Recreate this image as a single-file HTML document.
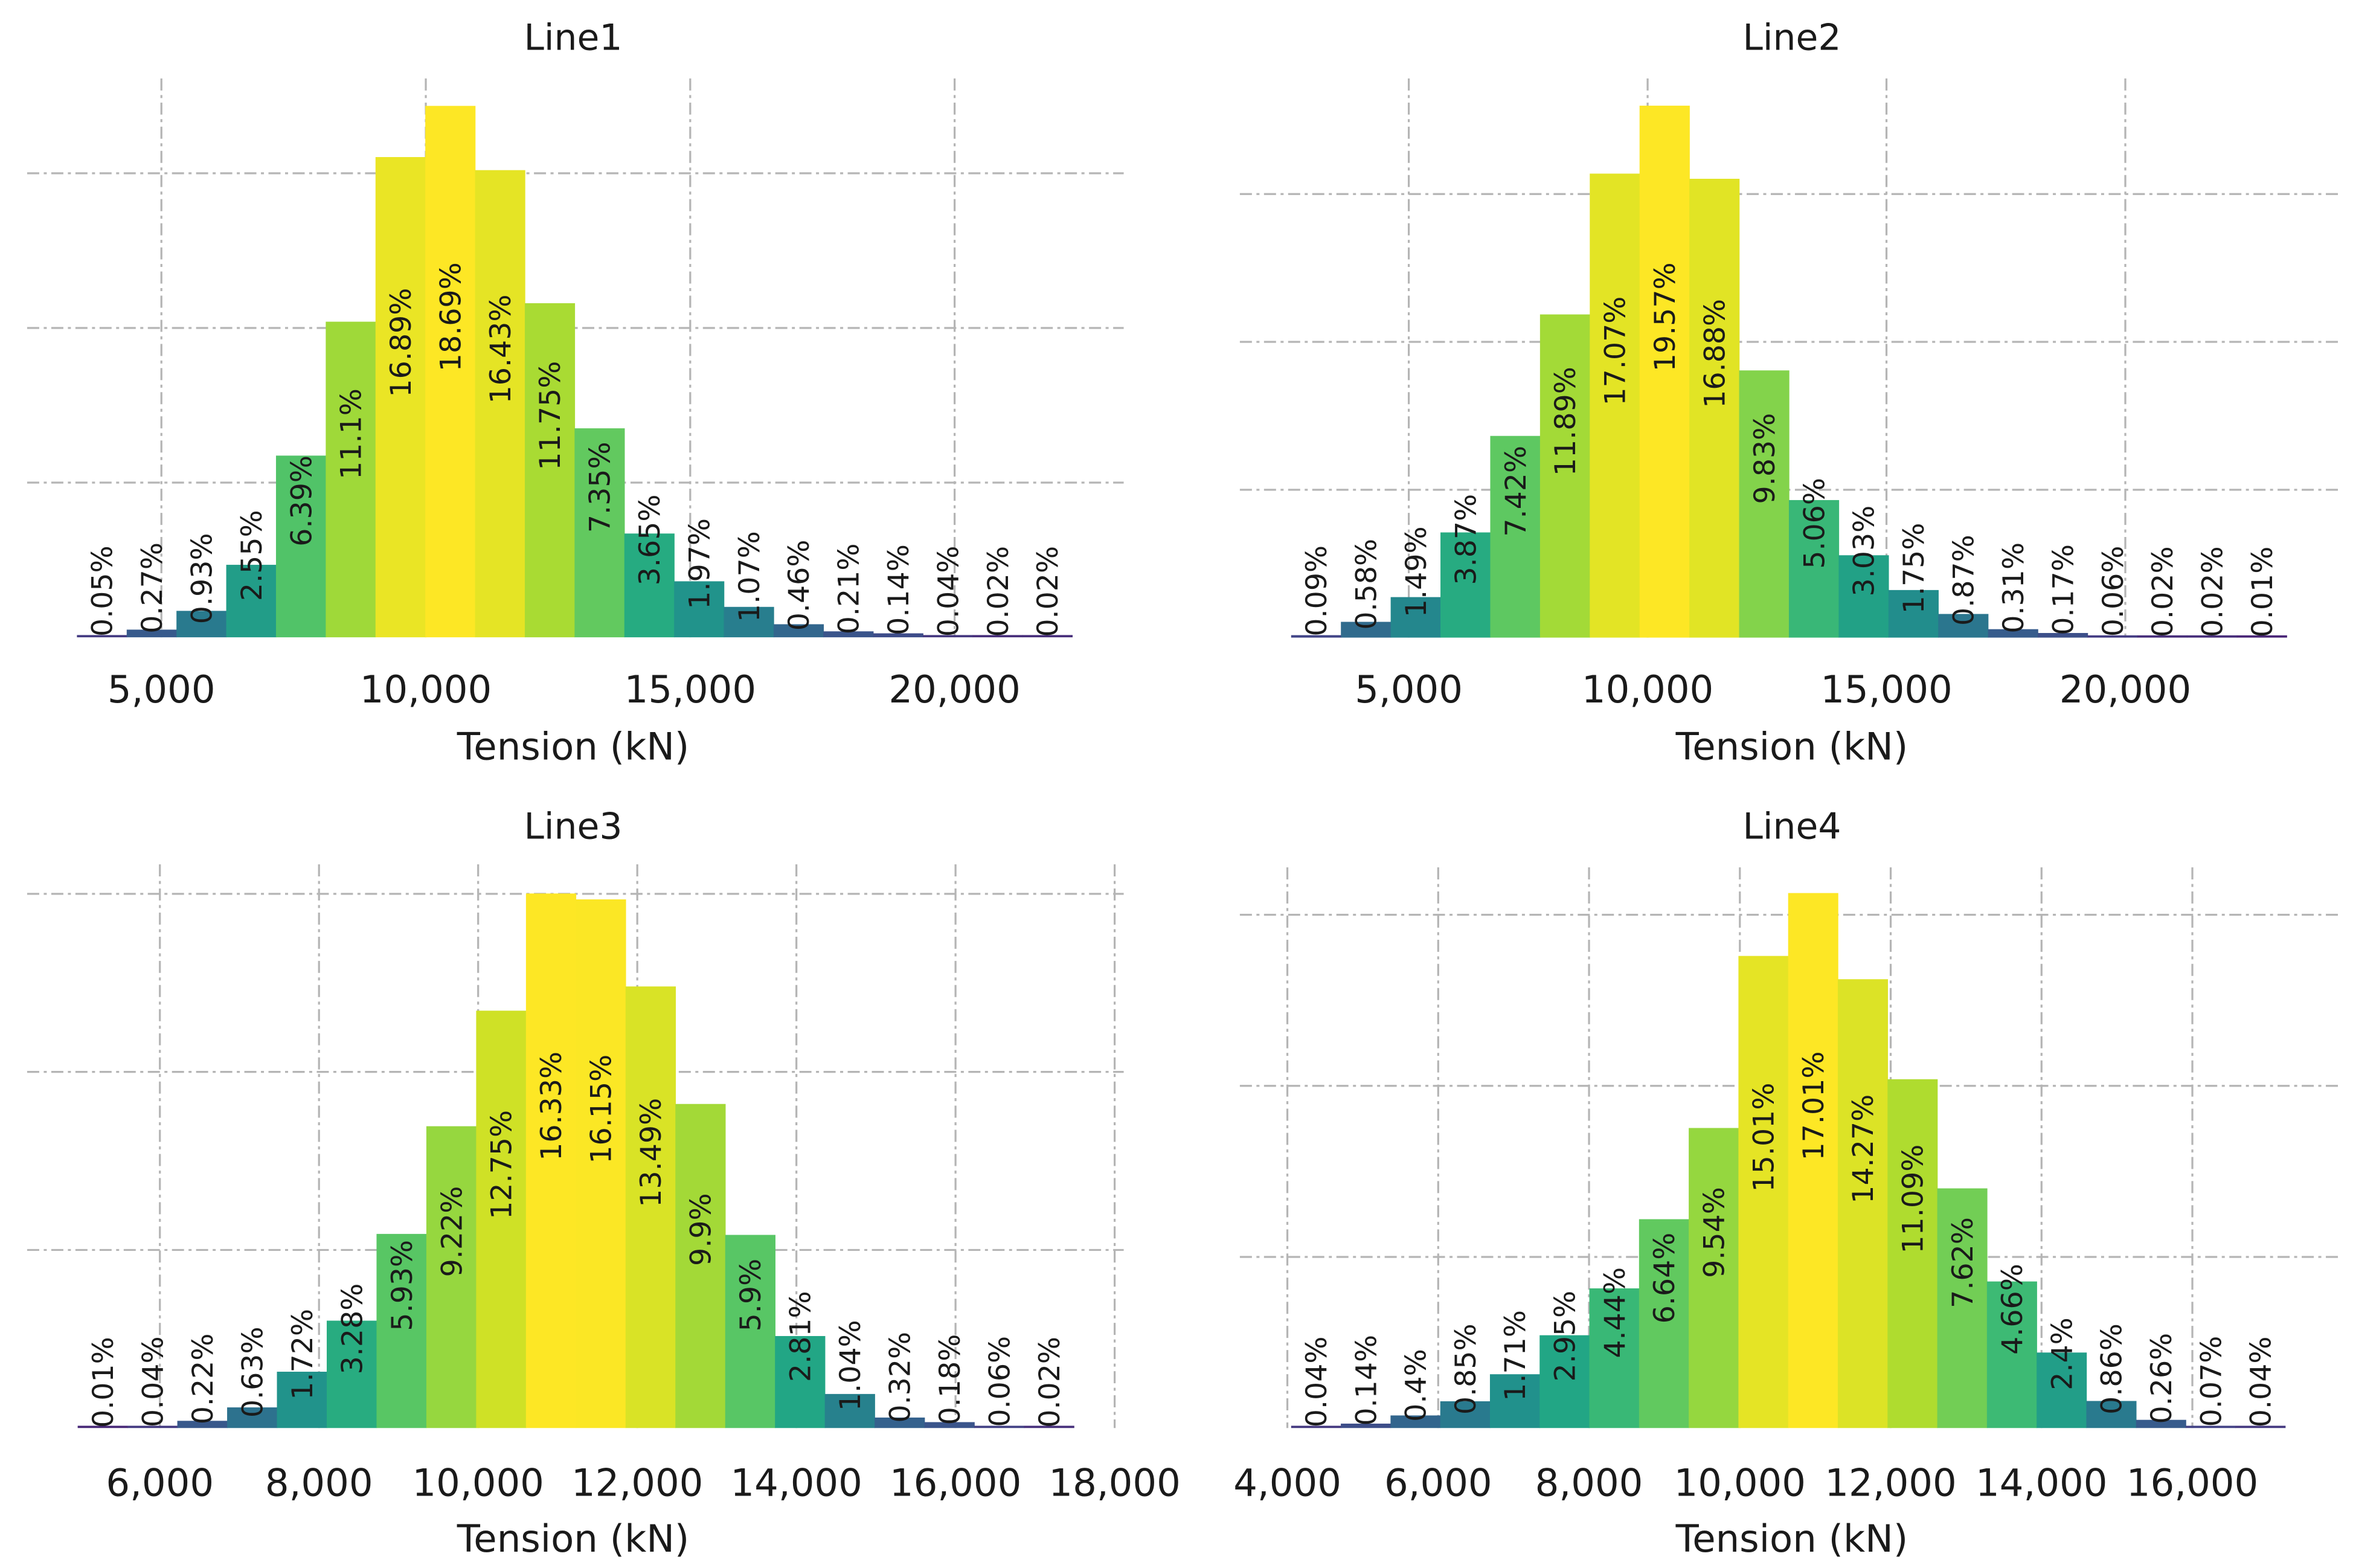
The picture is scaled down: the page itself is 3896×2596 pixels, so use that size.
<!DOCTYPE html>
<html><head><meta charset="utf-8"><style>
html,body{margin:0;padding:0;background:#fff;}
svg{display:block;}
text{font-family:"DejaVu Sans","Liberation Sans",sans-serif;fill:#1a1a1a;}
</style></head><body>
<svg id="chart" width="3896" height="2596" viewBox="0 0 1560 1039.5" preserveAspectRatio="none" xmlns="http://www.w3.org/2000/svg"></svg>
<script>
// ---- data ----
const titles = ["Line1","Line2","Line3","Line4"];
const line1Values = [0.05,0.27,0.93,2.55,6.39,11.1,16.89,18.69,16.43,11.75,7.35,3.65,1.97,1.07,0.46,0.21,0.14,0.04,0.02,0.02];
const line2Values = [0.09,0.58,1.49,3.87,7.42,11.89,17.07,19.57,16.88,9.83,5.06,3.03,1.75,0.87,0.31,0.17,0.06,0.02,0.02,0.01];
const line3Values = [0.01,0.04,0.22,0.63,1.72,3.28,5.93,9.22,12.75,16.33,16.15,13.49,9.9,5.9,2.81,1.04,0.32,0.18,0.06,0.02];
const line4Values = [0.04,0.14,0.4,0.85,1.71,2.95,4.44,6.64,9.54,15.01,17.01,14.27,11.09,7.62,4.66,2.4,0.86,0.26,0.07,0.04];
const binStarts = [3403, 2537, 4967, 4050];
const binWidths = [941, 1042, 626, 659];
const line1Ticks = [5000,10000,15000,20000];
const line2Ticks = [5000,10000,15000,20000];
const line3Ticks = [6000,8000,10000,12000,14000,16000,18000];
const line4Ticks = [4000,6000,8000,10000,12000,14000,16000];
const yGridPct = [5.44,10.88,16.32];

// ---- layout (positions, not data) ----
const panels = [
 {vals:line1Values,ticks:line1Ticks,x0:107,v0:5000,k:0.03506,base:422.5,ppp:18.85,gx0:18,gx1:745,gTop:52,cx:380,ty:25,tickY:457,labY:495},
 {vals:line2Values,ticks:line2Ticks,x0:934,v0:5000,k:0.03167,base:422.7,ppp:18.02,gx0:822,gx1:1550,gTop:52,cx:1188,ty:25,tickY:457,labY:495},
 {vals:line3Values,ticks:line3Ticks,x0:106,v0:6000,k:0.05275,base:946.7,ppp:21.7,gx0:18,gx1:745,gTop:573,cx:380,ty:548,tickY:983,labY:1020},
 {vals:line4Values,ticks:line4Ticks,x0:853.5,v0:4000,k:0.05,base:946.7,ppp:20.85,gx0:822,gx1:1550,gTop:575,cx:1188,ty:548,tickY:983,labY:1020}
];
const viridis=["#440154","#482475","#414487","#355f8d","#2a788e","#21918c","#22a884","#44bf70","#7ad151","#bddf26","#fde725"];
function hex(h){return [1,3,5].map(i=>parseInt(h.substr(i,2),16));}
function cmap(t){t=Math.max(0,Math.min(1,t));const s=t*10,i=Math.min(9,Math.floor(s)),f=s-i;const a=hex(viridis[i]),b=hex(viridis[i+1]);return "rgb("+a.map((c,j)=>Math.round(c+(b[j]-c)*f)).join(",")+")";}
const NS="http://www.w3.org/2000/svg";
const svg=document.getElementById("chart");
function el(tag,attrs,parent){const e=document.createElementNS(NS,tag);for(const k in attrs)e.setAttribute(k,attrs[k]);(parent||svg).appendChild(e);return e;}

panels.forEach((p,pi)=>{
  const g=el("g",{});
  
  
  const xs=v=>p.x0+(v-p.v0)*p.k;
  const ys=pct=>p.base-pct*p.ppp;
  // gridlines
  yGridPct.forEach(t=>{
    const l=el("line",{x1:p.gx0,x2:p.gx1,y1:ys(t),y2:ys(t),stroke:"#b5b5b5","stroke-width":1.3,"stroke-dasharray":"8,3,2,3"},g);
    
    
  });
  p.ticks.forEach(t=>{
    const l=el("line",{x1:xs(t),x2:xs(t),y1:p.gTop,y2:p.base,stroke:"#b5b5b5","stroke-width":1.3,"stroke-dasharray":"8,3,2,3"},g);
    
    
  });
  const mx=Math.max(...p.vals);
  // bars
  p.vals.forEach((v,i)=>{
    const a=xs(binStarts[pi]+i*binWidths[pi]), b=xs(binStarts[pi]+(i+1)*binWidths[pi]);
    const h=Math.max(v*p.ppp,1.5);
    const r=el("rect",{x:a,y:p.base-h,width:b-a+0.3,height:h,fill:cmap(Math.pow(v/mx,0.3))},g);
    
    
  });
  // labels
  p.vals.forEach((v,i)=>{
    const c=xs(binStarts[pi]+(i+0.5)*binWidths[pi]);
    const y=p.base-v*p.ppp/2;
    const t=el("text",{transform:"translate("+c+","+y+") rotate(-90)",dy:"0.36em","font-size":19,"text-anchor":"start"},g);
    t.textContent=v+"%";
    
    
  });
  // tick labels
  p.ticks.forEach(t=>{
    const tx=el("text",{x:xs(t),y:p.tickY,"font-size":25,"text-anchor":"middle","dominant-baseline":"central"},g);
    tx.textContent=t.toLocaleString("en-US");
    
    
  });
  const ti=el("text",{x:p.cx,y:p.ty,"font-size":24,"text-anchor":"middle","dominant-baseline":"central"},g);
  ti.textContent=titles[pi];
  
  
  const xl=el("text",{x:p.cx,y:p.labY,"font-size":25,"text-anchor":"middle","dominant-baseline":"central"},g);
  xl.textContent="Tension (kN)";
  
  
});
</script>
</body></html>
